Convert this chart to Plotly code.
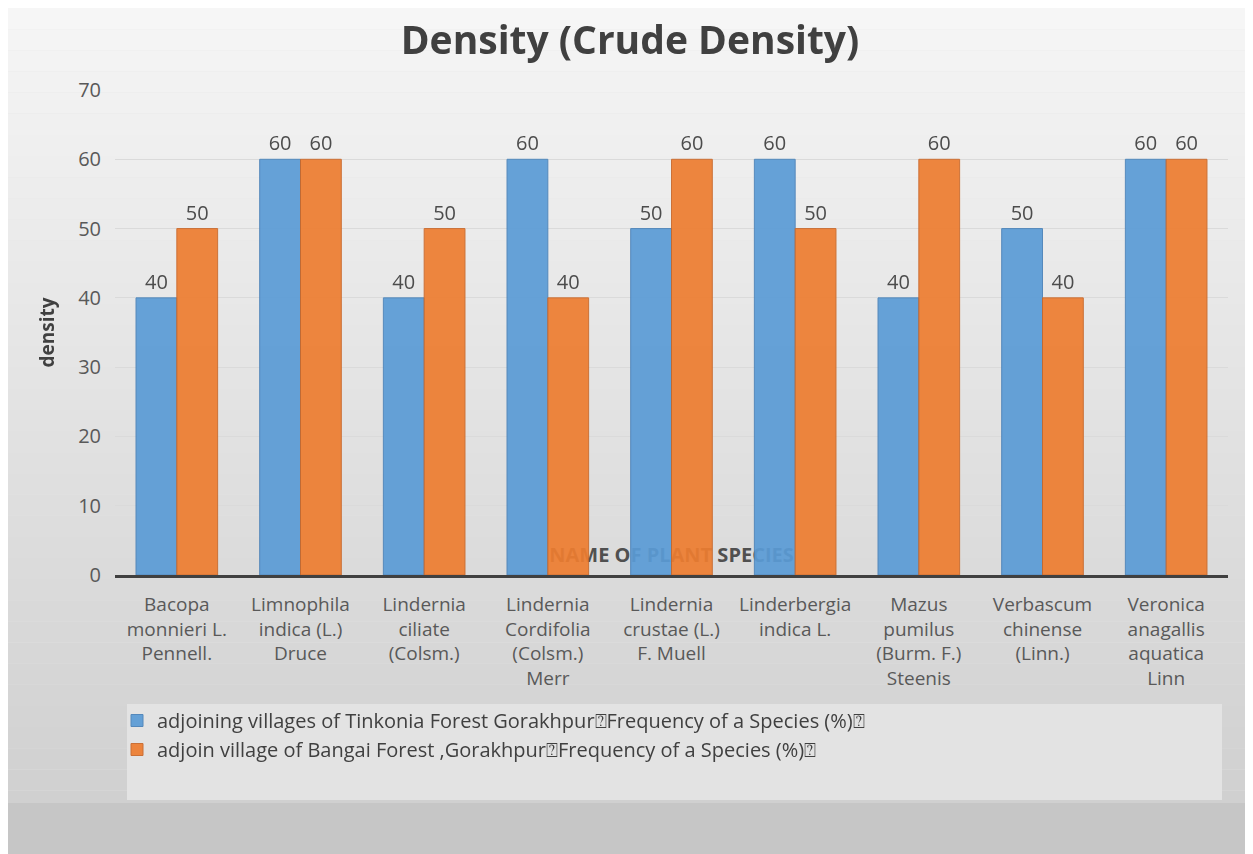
import plotly.graph_objects as go

categories = [
    "Bacopa<br>monnieri L.<br>Pennell.",
    "Limnophila<br>indica (L.)<br>Druce",
    "Lindernia<br>ciliate<br>(Colsm.)",
    "Lindernia<br>Cordifolia<br>(Colsm.)<br>Merr",
    "Lindernia<br>crustae (L.)<br>F. Muell",
    "Linderbergia<br>indica L.",
    "Mazus<br>pumilus<br>(Burm. F.)<br>Steenis",
    "Verbascum<br>chinense<br>(Linn.)",
    "Veronica<br>anagallis<br>aquatica<br>Linn",
]
tinkonia = [40, 60, 40, 60, 50, 60, 40, 50, 60]
bangai = [50, 60, 50, 40, 60, 50, 60, 40, 60]
series_names = [
    "adjoining villages of Tinkonia Forest Gorakhpur\u2370Frequency of a Species (%)\u2370",
    "adjoin village of Bangai Forest ,Gorakhpur\u2370Frequency of a Species (%)\u2370",
]

FONT = "Open Sans"
W, H = 1245, 846
L, R, T, B = 107, 25, 82, 279
PW = W - L - R   # 1113
PH = H - T - B   # 485
OX, OY = 115, 90  # absolute position of plot area (page has 8px body margin)


def px(X):
    return (X - OX) / PW


def py(Y):
    return (OY + PH - Y) / PH


fig = go.Figure()
fig.add_trace(go.Bar(
    x=categories, y=tinkonia, name=series_names[0],
    marker=dict(color="#5b9bd5", line=dict(color="#4a82b8", width=1)),
    opacity=0.93,
    text=tinkonia, textposition="outside", cliponaxis=False,
    textfont=dict(size=20, color="#404040", family=FONT),
))
fig.add_trace(go.Bar(
    x=categories, y=bangai, name=series_names[1],
    marker=dict(color="#ed7d31", line=dict(color="#c9682a", width=1)),
    opacity=0.93,
    text=bangai, textposition="outside", cliponaxis=False,
    textfont=dict(size=20, color="#404040", family=FONT),
))

# background gradient bands
shapes = []
n = 40
top_c = (246, 246, 246)
bot_c = (206, 206, 206)
y_lo = -B / PH
y_hi = 1 + T / PH
for i in range(n):
    t = i / (n - 1)
    c = tuple(int(top_c[k] + (bot_c[k] - top_c[k]) * t) for k in range(3))
    y1 = y_hi - (y_hi - y_lo) * i / n
    y0 = y_hi - (y_hi - y_lo) * (i + 1) / n
    shapes.append(dict(type="rect", xref="paper", yref="paper",
                       x0=-L / PW, x1=1 + R / PW, y0=y0, y1=y1,
                       fillcolor="rgb(%d,%d,%d)" % c, line=dict(width=0),
                       layer="below"))
# darker strip at very bottom
shapes.append(dict(type="rect", xref="paper", yref="paper",
                   x0=-L / PW, x1=1 + R / PW,
                   y0=y_lo, y1=py(803),
                   fillcolor="#c6c6c6", line=dict(width=0), layer="below"))
# legend box
shapes.append(dict(type="rect", xref="paper", yref="paper",
                   x0=px(127), x1=px(1222),
                   y0=py(800), y1=py(704),
                   fillcolor="#e3e3e3", line=dict(width=0), layer="below"))
# x-axis title drawn behind the bars
shapes.append(dict(type="rect", xref="paper", yref="paper",
                   x0=0.25, x1=0.75, y0=0.01, y1=0.07,
                   fillcolor="rgba(0,0,0,0)", line=dict(width=0), layer="below",
                   label=dict(text="<b>NAME OF PLANT SPECIES</b>",
                              font=dict(size=20, color="#505050", family=FONT),
                              textposition="middle center")))

fig.update_layout(
    width=W, height=H,
    margin=dict(l=L, r=R, t=T, b=B),
    paper_bgcolor="#e4e4e4",
    plot_bgcolor="rgba(0,0,0,0)",
    shapes=shapes,
    title=dict(text="<b>Density (Crude Density)</b>",
               x=(630 - 8) / W, xanchor="center", xref="container",
               y=1 - (40 - 8) / H, yref="container", yanchor="middle",
               font=dict(size=39, color="#404040", family=FONT)),
    barmode="group", bargap=0.34, bargroupgap=0,
    font=dict(family=FONT, color="#595959"),
    xaxis=dict(
        showgrid=False, showline=True, linecolor="#404040", linewidth=3,
        ticks="", tickfont=dict(size=19, color="#595959", family=FONT),
        tickangle=0, ticklabelstandoff=10,
    ),
    yaxis=dict(
        range=[0, 70], dtick=10, showgrid=True, gridcolor="#dadada", gridwidth=1,
        zeroline=False, showline=False, ticks="",
        tickfont=dict(size=20, color="#595959", family=FONT),
        ticklabelstandoff=13,
        title=dict(text="<b>density</b>", standoff=18,
                   font=dict(size=19, color="#404040", family=FONT)),
    ),
    legend=dict(
        orientation="v", x=px(117), xanchor="left",
        y=py(701), yanchor="top",
        bgcolor="rgba(0,0,0,0)", font=dict(size=20, color="#404040", family=FONT),
        itemwidth=30, tracegroupgap=0,
    ),
    showlegend=True,
)

fig.write_html("out.html")
